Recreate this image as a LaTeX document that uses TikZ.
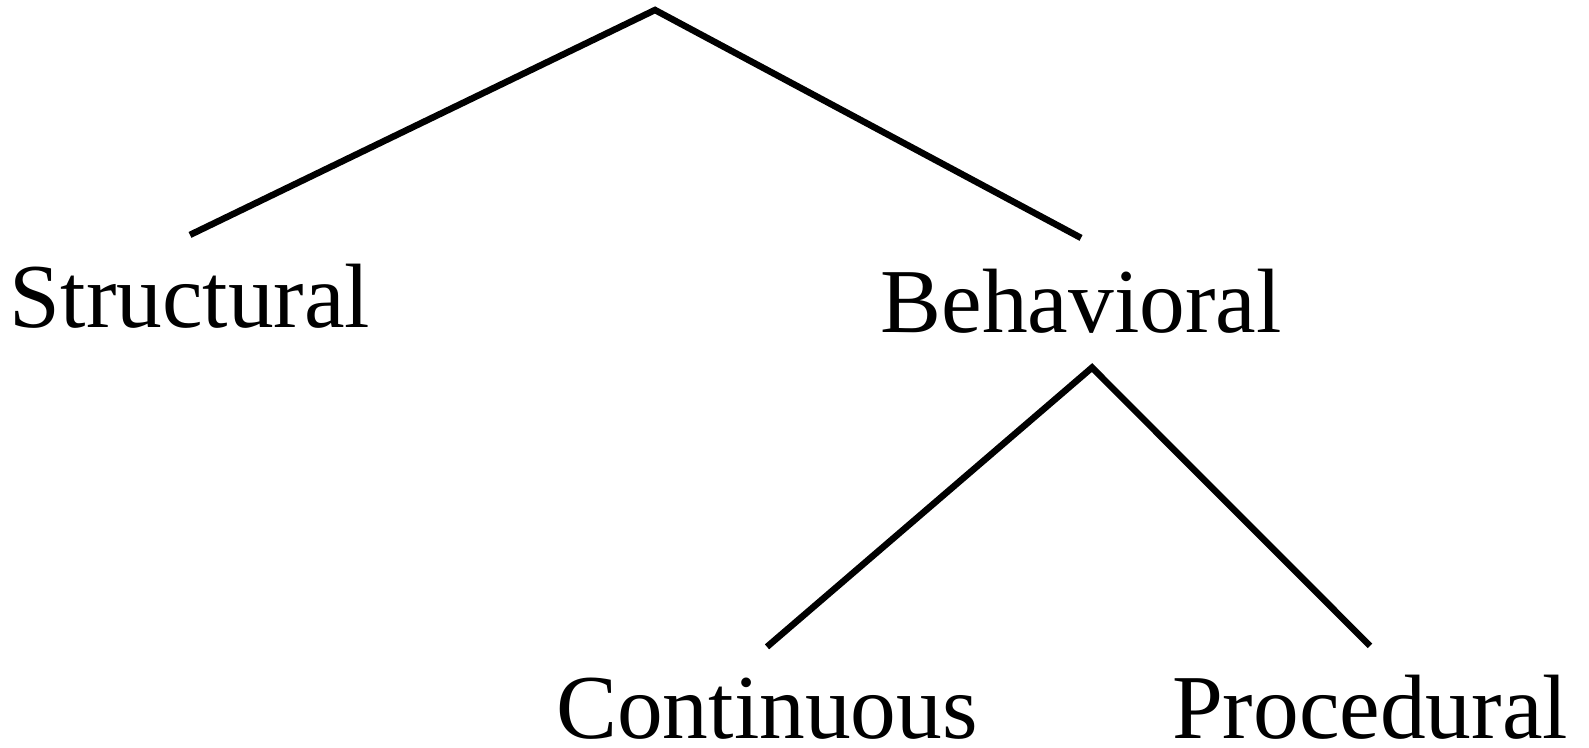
\documentclass[tikz,border=0pt]{standalone}
\usepackage{fontspec}
\setmainfont{Liberation Serif}
\usepackage{tikz}

\begin{document}
\begin{tikzpicture}[font=\fontsize{26}{30}\selectfont,
    leaf/.style={inner sep=0pt, anchor=base},
    branch/.style={line width=0.065cm}]
  \useasboundingbox (0,0) rectangle (15.89,-7.47);
  \coordinate (root) at (6.55,-0.10);
  \node[leaf] (struct) at (1.90,-3.27) {Structural};
  \node[leaf] (behav) at (10.81,-3.32) {Behavioral};
  \node[leaf] (cont) at (7.67,-7.38) {Continuous};
  \node[leaf] (proc) at (13.70,-7.38) {Procedural};
  \coordinate (fork) at ([xshift=0.11cm,yshift=-0.34cm]behav.south);
  \draw[branch] ([yshift=0.28cm]struct.north) -- (root) -- ([yshift=0.30cm]behav.north);
  \draw[branch] ([yshift=0.30cm]cont.north) -- (fork) -- ([yshift=0.28cm]proc.north);
\end{tikzpicture}
\end{document}
